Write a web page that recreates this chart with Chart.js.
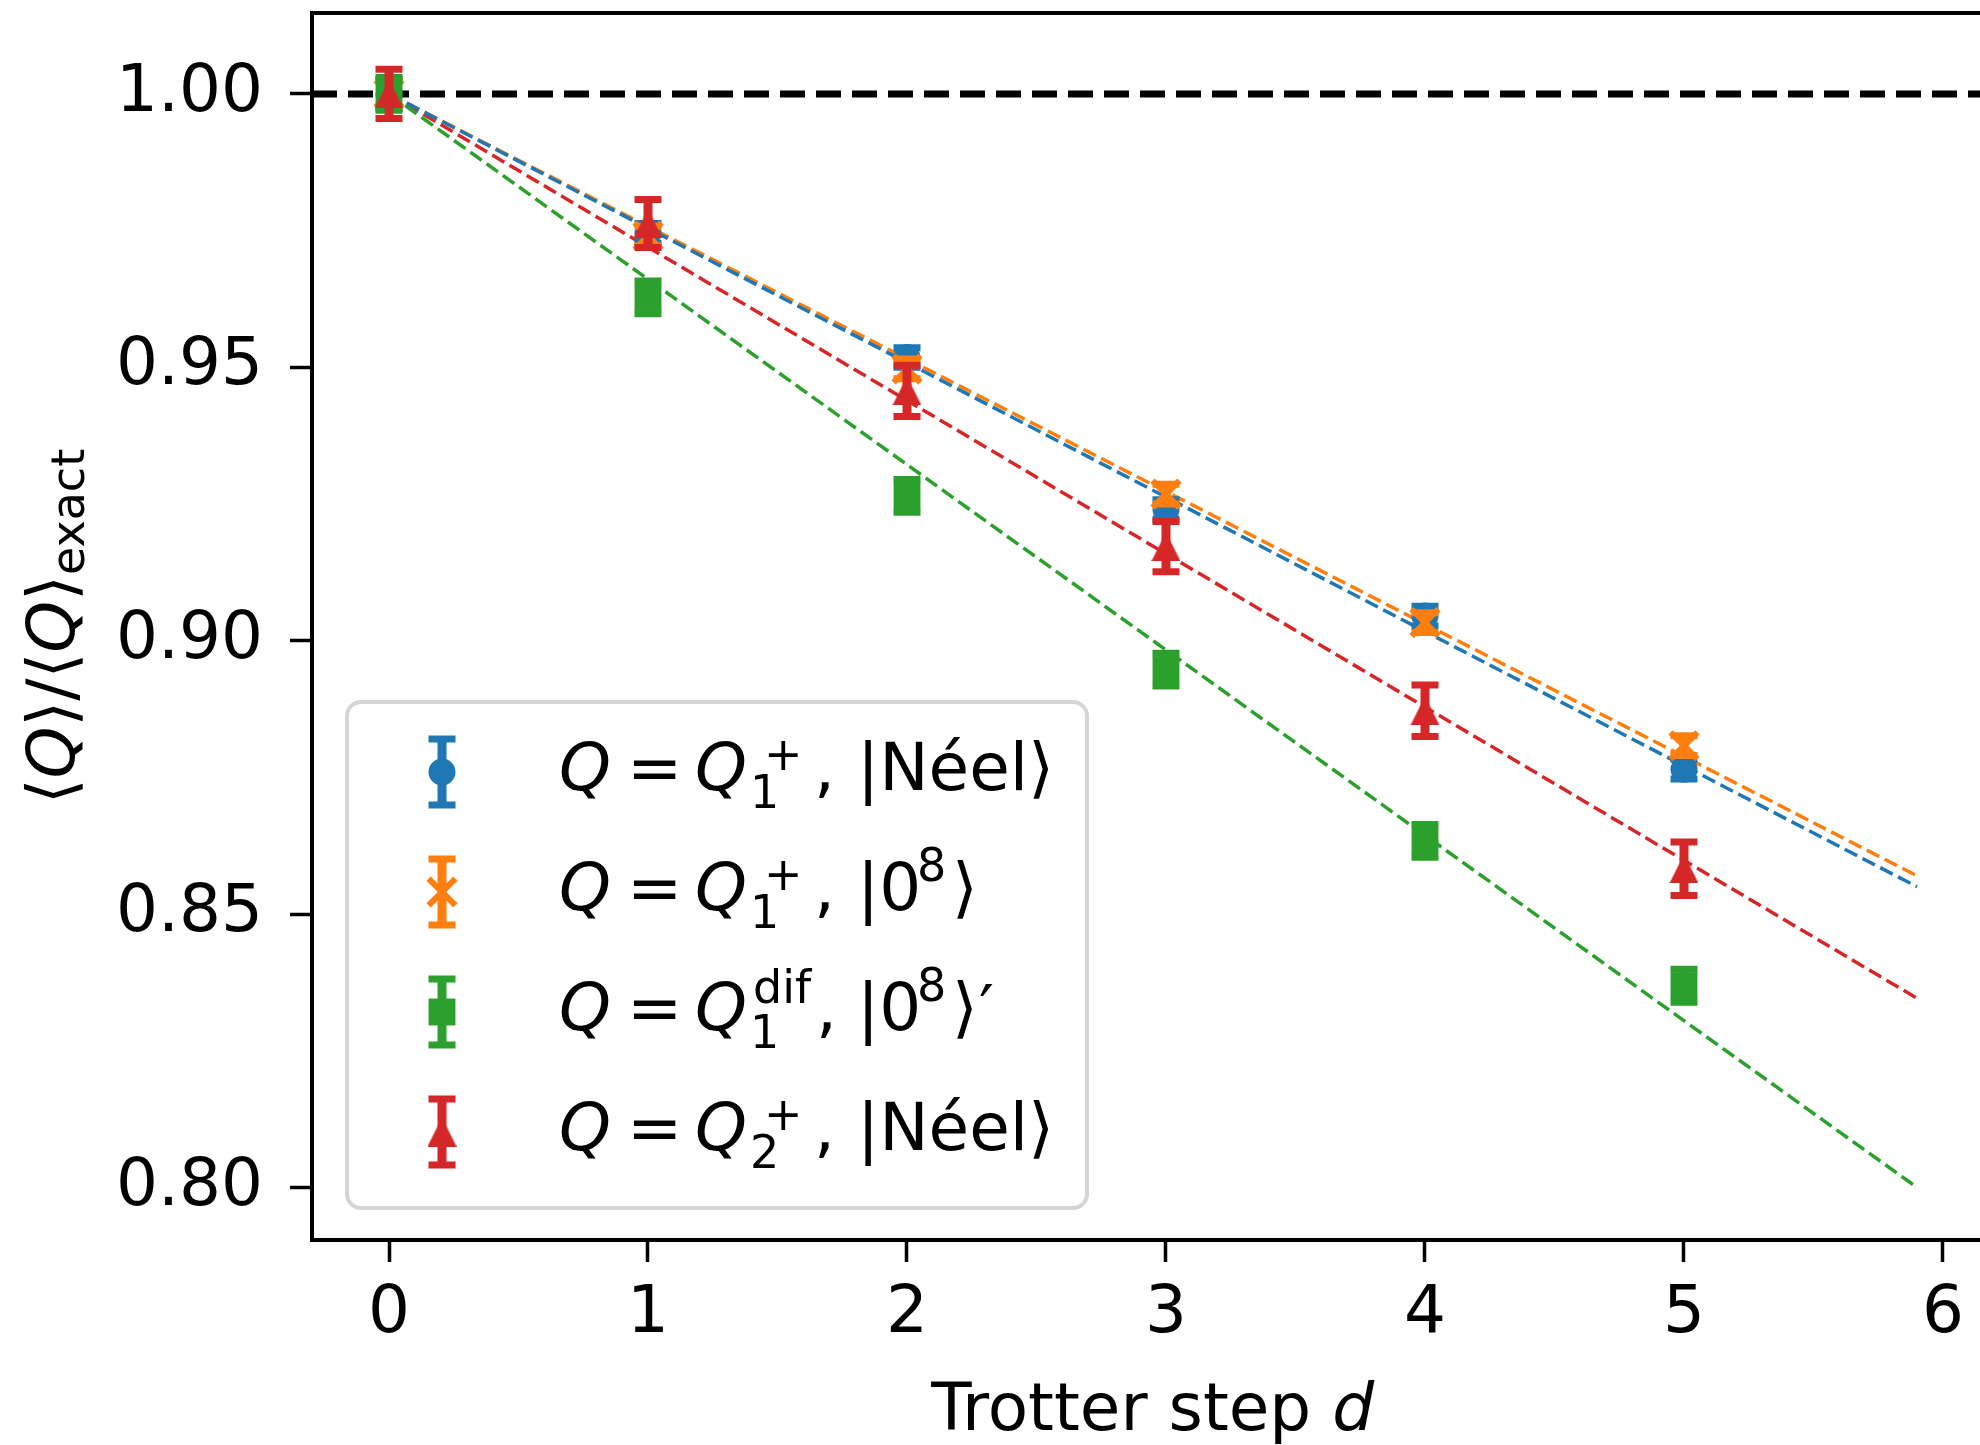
<!DOCTYPE html>
<html>
<head>
<meta charset="utf-8">
<title>Trotter step</title>
<script src="https://cdn.jsdelivr.net/npm/chart.js@4.4.1/dist/chart.umd.min.js"></script>
<style>
  html, body { margin: 0; padding: 0; background: #fff; overflow: hidden; }
  canvas { display: block; }
</style>
</head>
<body>
<canvas id="chart" width="1980" height="1445"></canvas>
<script>
// trotter steps on the x axis
const steps = [0, 1, 2, 3, 4, 5]

// <Q>/<Q>exact and error bars
const neelQ1 = [1.000, 0.9745, 0.9518, 0.9240, 0.9045, 0.8765]
const neelQ1Err = [0.0026, 0.0018, 0.0018, 0.0018, 0.0018, 0.0018]
const zeroQ1 = [1.000, 0.9740, 0.9497, 0.9268, 0.9033, 0.8808]
const zeroQ1Err = [0.0026, 0.0018, 0.0018, 0.0018, 0.0018, 0.0018]
const zeroQdif = [1.000, 0.9628, 0.9265, 0.8947, 0.8634, 0.8369]
const zeroQdifErr = [0.0030, 0.0030, 0.0030, 0.0030, 0.0030, 0.0030]
const neelQ2 = [1.000, 0.9763, 0.9457, 0.9172, 0.8872, 0.8583]
const neelQ2Err = [0.0045, 0.0044, 0.0047, 0.0046, 0.0047, 0.0049]

// linear fits, d = 0 .. 5.9
const fitX = [0, 5.9]
const fitNeelQ1 = [1.0, 0.855]
const fitZeroQ1 = [1.0, 0.857]
const fitZeroQdif = [1.0, 0.800]
const fitNeelQ2 = [1.0, 0.8346]

const xTicks = [0, 1, 2, 3, 4, 5, 6]
const yTicks = [0.80, 0.85, 0.90, 0.95, 1.00]

// axis limits (the right side of the original axes is cropped off)
const xMin = -0.2973, xMax = 6.1429, xFullMax = 6.195
const yMin = 0.7904, yMax = 1.0148

const blue = '#1f77b4', orange = '#ff7f0e', green = '#2ca02c', red = '#d62728'
const FONT = '"DejaVu Sans"'
const SIZE = 66, SCRIPT = 46

const pts = (xs, ys) => xs.map((x, i) => ({ x: x, y: ys[i] }))

function triangleMarker(size, color) {
    const c = document.createElement('canvas')
    c.width = size
    c.height = size
    const g = c.getContext('2d')
    g.fillStyle = color
    g.beginPath()
    g.moveTo(size / 2, 0)
    g.lineTo(size, size)
    g.lineTo(0, size)
    g.closePath()
    g.fill()
    return c
}

function fitLine(ys, color) {
    return {
        data: pts(fitX, ys),
        showLine: true,
        borderColor: color,
        borderWidth: 3.5,
        borderDash: [14, 6],
        pointRadius: 0,
        order: 10
    }
}

function series(ys, errs, color, style, radius, order) {
    return {
        data: pts(steps, ys),
        errors: errs,
        errColor: color,
        showLine: false,
        pointStyle: style,
        pointRadius: radius,
        backgroundColor: color,
        borderColor: color,
        pointBorderWidth: style === 'crossRot' ? 6 : 0,
        order: order
    }
}

const markerSets = [
    series(neelQ1, neelQ1Err, blue, 'circle', 13.5, 3),
    series(zeroQ1, zeroQ1Err, orange, 'crossRot', 19, 2),
    series(zeroQdif, zeroQdifErr, green, 'rect', 19, 1),
    series(neelQ2, neelQ2Err, red, triangleMarker(29, red), 15, 0)
]

// error bars drawn right before each marker dataset
const errorBars = {
    id: 'errorBars',
    beforeDatasetDraw(chart, args) {
        const ds = chart.data.datasets[args.index]
        if (!ds.errors) return
        const ctx = chart.ctx
        const ys = chart.scales.y
        ctx.save()
        ctx.strokeStyle = ds.errColor
        args.meta.data.forEach((p, i) => {
            const v = ds.data[i].y
            const top = ys.getPixelForValue(v + ds.errors[i])
            const bot = ys.getPixelForValue(v - ds.errors[i])
            ctx.lineWidth = 9
            ctx.beginPath()
            ctx.moveTo(p.x, top)
            ctx.lineTo(p.x, bot)
            ctx.stroke()
            ctx.lineWidth = 7
            ctx.beginPath()
            ctx.moveTo(p.x - 13.5, top)
            ctx.lineTo(p.x + 13.5, top)
            ctx.moveTo(p.x - 13.5, bot)
            ctx.lineTo(p.x + 13.5, bot)
            ctx.stroke()
        })
        ctx.restore()
    }
}

const spines = {
    id: 'spines',
    afterDatasetsDraw(chart) {
        const a = chart.chartArea
        const ctx = chart.ctx
        ctx.save()
        ctx.strokeStyle = '#000'
        ctx.lineWidth = 4
        ctx.lineCap = 'square'
        ctx.beginPath()
        ctx.moveTo(chart.width + 5, a.top)
        ctx.lineTo(a.left, a.top)
        ctx.lineTo(a.left, a.bottom)
        ctx.lineTo(chart.width + 5, a.bottom)
        ctx.stroke()
        ctx.restore()
    }
}

function fontOf(kind) {
    if (kind === 'it') return 'oblique ' + SIZE + 'px ' + FONT
    if (kind === 'sc') return SCRIPT + 'px ' + FONT
    return SIZE + 'px ' + FONT
}

// [text, kind, x, dy]
const legendRows = [
    [['Q', 'it', 559, 0], ['=', 'rm', 627, 0], ['Q', 'it', 695, 0], ['1', 'sc', 750, 18], ['+', 'sc', 764, -20],
     [',', 'rm', 814, 0], ['|Néel⟩', 'rm', 857, 0]],
    [['Q', 'it', 559, 0], ['=', 'rm', 627, 0], ['Q', 'it', 695, 0], ['1', 'sc', 750, 18], ['+', 'sc', 764, -20],
     [',', 'rm', 814, 0], ['|0', 'rm', 857, 0], ['8', 'sc', 917, -29], ['⟩', 'rm', 952, 0]],
    [['Q', 'it', 559, 0], ['=', 'rm', 627, 0], ['Q', 'it', 695, 0], ['1', 'sc', 750, 18], ['dif', 'sc', 753, -27],
     [',', 'rm', 816, 0], ['|0', 'rm', 857, 0], ['8', 'sc', 917, -29], ['⟩', 'rm', 952, 0], ['′', 'rm', 979, 2]],
    [['Q', 'it', 559, 0], ['=', 'rm', 627, 0], ['Q', 'it', 695, 0], ['2', 'sc', 750, 18], ['+', 'sc', 764, -20],
     [',', 'rm', 814, 0], ['|Néel⟩', 'rm', 857, 0]]
]

function drawMarker(ctx, ds, x, y) {
    const style = ds.pointStyle
    if (Chart.helpers && Chart.helpers.drawPoint) {
        Chart.helpers.drawPoint(ctx, { pointStyle: style, radius: ds.pointRadius, borderWidth: ds.pointBorderWidth, rotation: 0 }, x, y)
        return
    }
    if (typeof style === 'object') ctx.drawImage(style, x - style.width / 2, y - style.height / 2)
}

const mathLegend = {
    id: 'mathLegend',
    afterDraw(chart) {
        const ctx = chart.ctx
        ctx.save()
        ctx.beginPath()
        ctx.roundRect(347, 702, 740, 506, 14)
        ctx.fillStyle = 'rgba(255,255,255,0.8)'
        ctx.fill()
        ctx.lineWidth = 4
        ctx.strokeStyle = '#d5d5d5'
        ctx.stroke()

        const hx = 442
        markerSets.forEach((ds, i) => {
            const base = 790 + 120 * i
            const cy = base - 18
            ctx.strokeStyle = ds.errColor
            ctx.fillStyle = ds.errColor
            ctx.lineWidth = 9
            ctx.beginPath()
            ctx.moveTo(hx, cy - 33)
            ctx.lineTo(hx, cy + 33)
            ctx.stroke()
            ctx.lineWidth = 7
            ctx.beginPath()
            ctx.moveTo(hx - 13.5, cy - 33)
            ctx.lineTo(hx + 13.5, cy - 33)
            ctx.moveTo(hx - 13.5, cy + 33)
            ctx.lineTo(hx + 13.5, cy + 33)
            ctx.stroke()
            ctx.lineWidth = ds.pointBorderWidth
            drawMarker(ctx, ds, hx, cy)

            ctx.fillStyle = '#000'
            ctx.textBaseline = 'alphabetic'
            ctx.textAlign = 'left'
            legendRows[i].forEach(r => {
                ctx.font = fontOf(r[1])
                ctx.fillText(r[0], r[2], base + r[3])
            })
        })
        ctx.restore()
    }
}

// axis titles with math pieces
const axisTitles = {
    id: 'axisTitles',
    afterDraw(chart) {
        const ctx = chart.ctx
        const xs = chart.scales.x
        ctx.save()
        ctx.fillStyle = '#000'
        ctx.textBaseline = 'alphabetic'
        ctx.textAlign = 'left'

        // x title
        const cx = xs.getPixelForValue((xMin + xFullMax) / 2)
        ctx.font = fontOf('rm')
        const w1 = ctx.measureText('Trotter step ').width
        ctx.font = fontOf('it')
        const w2 = ctx.measureText('d').width
        let x = cx - (w1 + w2) / 2
        ctx.font = fontOf('rm')
        ctx.fillText('Trotter step ', x, 1430)
        ctx.font = fontOf('it')
        ctx.fillText('d', x + w1, 1430)

        // y title
        const runs = [['⟨', 'rm', 0], ['Q', 'it', 0], ['⟩', 'rm', 0], ['/', 'rm', 0], ['⟨', 'rm', 0],
                      ['Q', 'it', 0], ['⟩', 'rm', 0], ['exact', 'sc', 10]]
        let total = 0
        runs.forEach(r => { ctx.font = fontOf(r[1]); total += ctx.measureText(r[0]).width })
        const cy = (chart.chartArea.top + chart.chartArea.bottom) / 2
        ctx.translate(74, cy)
        ctx.rotate(-Math.PI / 2)
        x = -total / 2
        runs.forEach(r => {
            ctx.font = fontOf(r[1])
            ctx.fillText(r[0], x, r[2])
            x += ctx.measureText(r[0]).width
        })
        ctx.restore()
    }
}

const tickFont = { family: 'DejaVu Sans', size: SIZE }

function noPadding(s) {
    s.paddingLeft = 0
    s.paddingRight = 0
    s.paddingTop = 0
    s.paddingBottom = 0
}

new Chart(document.getElementById('chart'), {
    type: 'scatter',
    data: {
        datasets: [
            {
                data: [{ x: xMin, y: 1 }, { x: xMax, y: 1 }],
                showLine: true,
                borderColor: '#000',
                borderWidth: 7,
                borderDash: [25, 11],
                pointRadius: 0,
                order: 20
            },
            fitLine(fitNeelQ1, blue),
            fitLine(fitZeroQ1, orange),
            fitLine(fitZeroQdif, green),
            fitLine(fitNeelQ2, red)
        ].concat(markerSets)
    },
    options: {
        responsive: false,
        animation: false,
        events: [],
        layout: { autoPadding: false, padding: { top: 13, right: 0, left: 0, bottom: 0 } },
        plugins: { legend: { display: false }, tooltip: { enabled: false } },
        scales: {
            x: {
                type: 'linear',
                min: xMin,
                max: xMax,
                afterBuildTicks: s => { s.ticks = xTicks.map(v => ({ value: v })) },
                afterFit: s => { s.height = 205; noPadding(s) },
                grid: { drawOnChartArea: false, drawTicks: true, tickLength: 22, tickWidth: 3.5, tickColor: '#000' },
                border: { display: false },
                ticks: { color: '#000', font: tickFont, padding: 13, maxRotation: 0, autoSkip: false, callback: v => String(v) }
            },
            y: {
                type: 'linear',
                min: yMin,
                max: yMax,
                afterBuildTicks: s => { s.ticks = yTicks.map(v => ({ value: v })) },
                afterFit: s => { s.width = 312; noPadding(s) },
                grid: { drawOnChartArea: false, drawTicks: true, tickLength: 22, tickWidth: 3.5, tickColor: '#000' },
                border: { display: false },
                ticks: { color: '#000', font: tickFont, padding: 27, autoSkip: false, callback: v => v.toFixed(2) }
            }
        }
    },
    plugins: [errorBars, spines, mathLegend, axisTitles]
})
</script>
</body>
</html>
